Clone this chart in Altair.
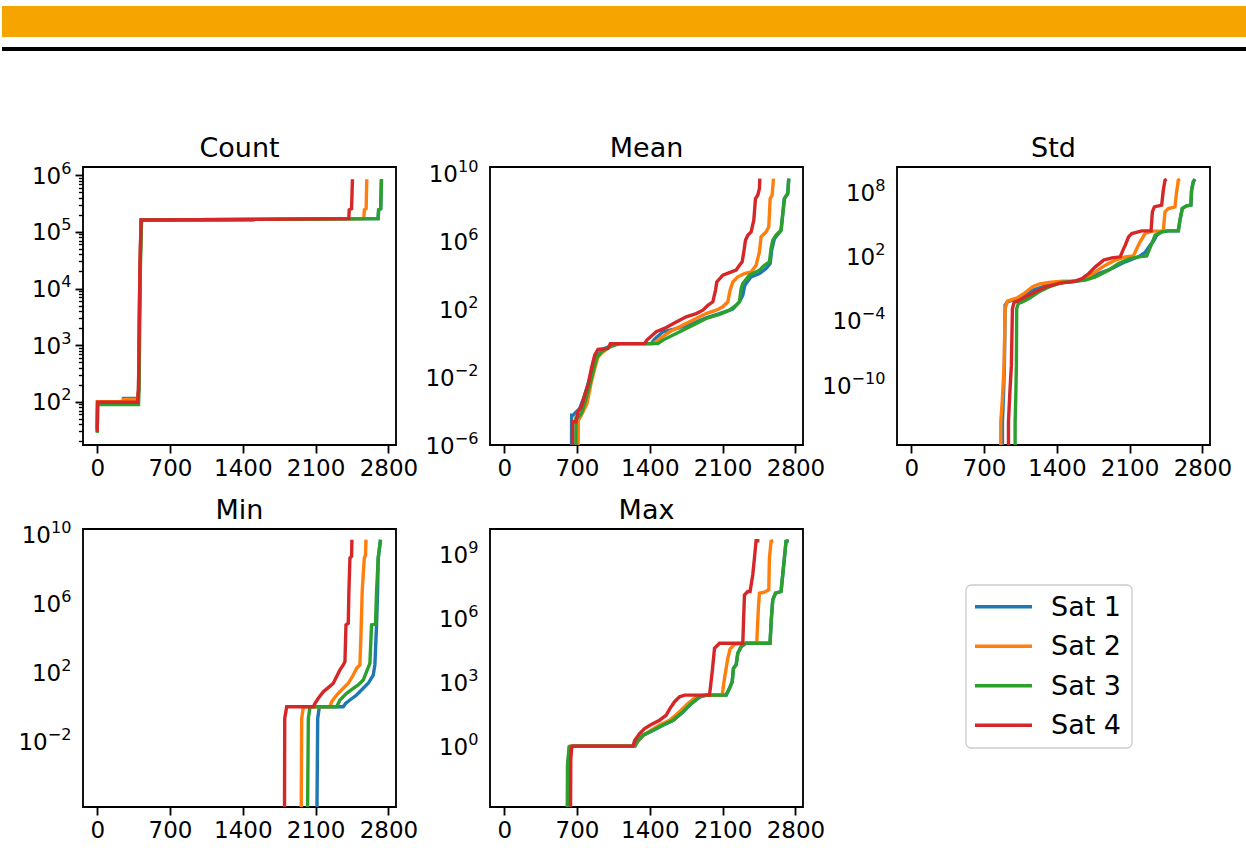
import math
import altair as alt
import pandas as pd

SATS = ["Sat 1", "Sat 2", "Sat 3", "Sat 4"]
COLORS = ["#1f77b4", "#ff7f0e", "#2ca02c", "#d62728"]
X_TICKS = [0, 700, 1400, 2100, 2800]
X_LIMITS = [-137, 2873]

# Each series: (sorted index, log10 of value).
# Points drawn at the floor value continue below the axis (zero entries).
COUNT = {
    "Sat 1": [(0, 1.53), (3, 2.0), (250, 2.0), (252, 2.06), (387, 2.06), (397, 2.21), (410, 4.29), (422, 5.21),
              (1500, 5.22), (2701, 5.235), (2706, 5.39), (2726, 5.41), (2733, 5.93)],
    "Sat 2": [(0, 1.50), (3, 2.0), (250, 2.0), (252, 2.04), (387, 2.04), (397, 2.21), (410, 4.29), (422, 5.21),
              (1500, 5.22), (2563, 5.235), (2569, 5.39), (2586, 5.41), (2592, 5.93)],
    "Sat 3": [(0, 1.45), (3, 1.95), (397, 1.95), (402, 2.21), (414, 4.29), (426, 5.21),
              (1500, 5.22), (2701, 5.235), (2706, 5.39), (2726, 5.41), (2733, 5.93)],
    "Sat 4": [(0, 1.47), (3, 1.99), (387, 1.99), (397, 2.21), (410, 4.29), (422, 5.21),
              (1500, 5.22), (2419, 5.235), (2423, 5.39), (2446, 5.41), (2454, 5.93)],
}

MEAN = {
    "Sat 1": [(646, -8), (648, -4.20), (662, -4.20), (694, -4.0), (726, -3.81), (774, -3.02), (822, -2.04), (870, -1.07),
              (902, -0.67), (966, -0.28), (1046, -0.09), (1110, 0.0), (1414, 0.0), (1446, 0.27), (1526, 0.70),
              (1654, 0.89), (1814, 1.19), (1942, 1.52), (2070, 1.77), (2198, 2.03), (2262, 2.46), (2294, 2.85),
              (2314, 3.44), (2374, 3.93), (2454, 4.12), (2518, 4.42), (2557, 4.71), (2572, 5.50), (2598, 6.18),
              (2662, 6.67), (2694, 8.53), (2726, 8.82), (2736, 9.71)],
    "Sat 2": [(710, -8), (712, -4.39), (726, -4.39), (758, -4.0), (796, -3.51), (838, -2.24), (870, -1.46), (902, -0.77),
              (950, -0.48), (1014, -0.18), (1078, 0.0), (1430, 0.0), (1478, 0.21), (1590, 0.70), (1718, 1.09),
              (1846, 1.48), (1942, 1.77), (2038, 1.97), (2102, 2.17), (2150, 2.46), (2172, 3.15), (2198, 3.63),
              (2246, 3.93), (2310, 4.12), (2374, 4.22), (2422, 4.61), (2454, 5.40), (2470, 6.28), (2518, 6.57),
              (2544, 6.87), (2557, 8.53), (2576, 8.73), (2589, 9.71)],
    "Sat 3": [(688, -8), (690, -4.39), (700, -4.39), (742, -4.10), (774, -3.51), (822, -2.44), (854, -1.65), (886, -0.87),
              (934, -0.48), (998, -0.24), (1062, -0.09), (1110, 0.0), (1478, 0.0), (1526, 0.21), (1654, 0.60),
              (1814, 1.09), (1942, 1.48), (2070, 1.72), (2166, 1.97), (2230, 2.26), (2262, 2.46), (2278, 3.24),
              (2294, 3.54), (2358, 4.03), (2454, 4.32), (2502, 4.61), (2550, 4.81), (2566, 5.59), (2582, 6.08),
              (2614, 6.38), (2662, 6.67), (2694, 8.53), (2726, 8.82), (2736, 9.71)],
    "Sat 4": [(656, -8), (657, -4.59), (688, -4.59), (710, -4.0), (742, -3.71), (774, -3.02), (806, -2.44), (838, -1.46),
              (870, -0.67), (902, -0.34), (998, -0.28), (1020, 0.0), (1350, 0.0), (1372, 0.21), (1462, 0.70),
              (1558, 0.95), (1654, 1.28), (1750, 1.58), (1846, 1.77), (1910, 1.97), (1958, 2.26), (2006, 2.46),
              (2032, 3.15), (2044, 3.63), (2102, 4.03), (2166, 4.18), (2230, 4.32), (2262, 4.61), (2288, 4.81),
              (2304, 5.40), (2320, 6.08), (2342, 6.38), (2374, 6.57), (2400, 7.26), (2416, 8.53), (2438, 8.73),
              (2454, 9.12), (2458, 9.71)],
}

STD = {
    "Sat 1": [(877, -18), (877, -13.43), (887, -10.94), (896, -8.14), (903, -2.53), (925, -2.22), (973, -2.06),
              (1069, -1.75), (1164, -1.13), (1292, -0.72), (1452, -0.41), (1579, -0.29), (1675, -0.10), (1802, 0.43),
              (1930, 0.90), (2058, 1.52), (2185, 1.99), (2249, 2.39), (2297, 3.08), (2329, 3.45), (2361, 4.01),
              (2408, 4.32), (2472, 4.42), (2568, 4.42), (2584, 5.41), (2606, 6.50), (2648, 6.75), (2689, 6.82),
              (2696, 8.22), (2712, 9.00), (2728, 9.25)],
    "Sat 2": [(861, -18), (861, -13.43), (877, -11.25), (893, -8.14), (903, -2.84), (925, -2.16), (973, -2.0),
              (1021, -1.84), (1085, -1.44), (1164, -0.82), (1228, -0.57), (1324, -0.41), (1452, -0.29), (1579, -0.26),
              (1675, -0.04), (1771, 0.59), (1866, 1.21), (1962, 1.68), (2058, 1.99), (2137, 2.08), (2169, 2.77),
              (2201, 3.39), (2249, 4.17), (2313, 4.39), (2424, 4.42), (2440, 6.19), (2472, 6.50), (2536, 6.66),
              (2552, 8.06), (2568, 9.15), (2584, 9.25)],
    "Sat 3": [(999, -18), (999, -13.43), (1005, -11.25), (1011, -8.14), (1014, -2.84), (1030, -2.37), (1069, -2.22),
              (1133, -1.91), (1228, -1.28), (1324, -0.82), (1452, -0.41), (1579, -0.29), (1675, -0.19), (1771, 0.12),
              (1898, 0.74), (1994, 1.36), (2090, 1.77), (2185, 1.99), (2265, 2.08), (2287, 2.61), (2313, 3.23),
              (2345, 4.01), (2408, 4.32), (2472, 4.42), (2568, 4.42), (2584, 5.41), (2606, 6.50), (2648, 6.75),
              (2689, 6.82), (2696, 8.22), (2712, 9.00), (2728, 9.25)],
    "Sat 4": [(935, -18), (935, -13.43), (947, -10.94), (963, -8.14), (973, -2.84), (989, -2.28), (1021, -2.16),
              (1101, -1.75), (1196, -1.28), (1292, -0.82), (1420, -0.50), (1579, -0.29), (1643, -0.04), (1707, 0.43),
              (1771, 1.05), (1850, 1.68), (1930, 1.89), (2010, 1.99), (2032, 2.52), (2058, 3.08), (2090, 3.86),
              (2121, 4.17), (2217, 4.42), (2306, 4.42), (2319, 6.19), (2338, 6.66), (2408, 6.82), (2424, 8.22),
              (2440, 9.15), (2456, 9.25)],
}

MIN = {
    "Sat 1": [(2110, -8), (2120, -0.68), (2136, 0.0), (2366, 0.0), (2388, 0.19), (2430, 0.39), (2494, 0.68),
              (2558, 1.07), (2606, 1.36), (2654, 1.84), (2670, 2.43), (2686, 4.76), (2696, 6.70), (2702, 8.64),
              (2724, 9.71)],
    "Sat 2": [(1960, -8), (1966, -0.68), (1982, 0.0), (2238, 0.0), (2254, 0.29), (2302, 0.68), (2366, 1.07),
              (2414, 1.36), (2462, 1.84), (2494, 2.23), (2526, 2.43), (2536, 4.17), (2548, 6.70), (2568, 8.64),
              (2580, 8.83), (2584, 9.71)],
    "Sat 3": [(2020, -8), (2030, -0.68), (2046, 0.0), (2302, 0.0), (2334, 0.39), (2398, 0.78), (2462, 1.07),
              (2510, 1.26), (2558, 1.55), (2590, 2.04), (2622, 2.52), (2638, 4.76), (2676, 4.80), (2686, 6.70),
              (2702, 8.64), (2724, 9.71)],
    "Sat 4": [(1800, -8), (1803, -0.68), (1822, 0.0), (2078, 0.0), (2094, 0.19), (2126, 0.49), (2174, 0.87),
              (2222, 1.11), (2270, 1.36), (2302, 1.75), (2334, 2.14), (2366, 2.43), (2382, 2.62), (2392, 4.76),
              (2414, 4.85), (2420, 6.70), (2430, 8.64), (2446, 8.74), (2449, 9.71)],
}

MAX = {
    "Sat 1": [(610, -5), (613, -0.90), (628, -0.03), (650, 0.0), (1258, 0.0), (1280, 0.20), (1338, 0.52), (1434, 0.75),
              (1530, 0.99), (1626, 1.22), (1722, 1.62), (1802, 2.01), (1882, 2.32), (1946, 2.40), (2134, 2.40),
              (2166, 2.72), (2192, 3.03), (2204, 3.66), (2230, 3.82), (2246, 4.37), (2278, 4.68), (2326, 4.84),
              (2556, 4.84), (2569, 6.01), (2582, 6.88), (2608, 7.19), (2662, 7.27), (2678, 8.06), (2694, 8.84),
              (2710, 9.63), (2735, 9.66)],
    "Sat 2": [(624, -5), (627, -0.58), (636, 0.0), (1254, 0.0), (1270, 0.12), (1318, 0.44), (1398, 0.70), (1494, 0.99),
              (1590, 1.22), (1686, 1.62), (1766, 2.01), (1846, 2.32), (1910, 2.40), (2096, 2.40), (2118, 3.19),
              (2150, 4.13), (2172, 4.57), (2214, 4.79), (2294, 4.84), (2428, 4.84), (2444, 6.49), (2454, 7.19),
              (2502, 7.24), (2544, 7.35), (2550, 8.84), (2566, 9.63), (2588, 9.66)],
    "Sat 3": [(604, -5), (608, -0.90), (624, -0.03), (646, 0.0), (1254, 0.0), (1276, 0.20), (1334, 0.52), (1430, 0.75),
              (1526, 0.99), (1622, 1.22), (1718, 1.62), (1798, 2.01), (1878, 2.32), (1942, 2.40), (2134, 2.40),
              (2166, 2.72), (2192, 3.03), (2204, 3.66), (2230, 3.82), (2246, 4.37), (2278, 4.68), (2326, 4.84),
              (2556, 4.84), (2569, 6.01), (2582, 6.88), (2608, 7.19), (2662, 7.27), (2678, 8.06), (2694, 8.84),
              (2710, 9.63), (2735, 9.66)],
    "Sat 4": [(636, -5), (640, -0.58), (650, -0.03), (658, 0.0), (1238, 0.0), (1254, 0.27), (1302, 0.59), (1350, 0.83),
              (1414, 1.02), (1494, 1.22), (1558, 1.46), (1590, 1.74), (1638, 2.09), (1686, 2.32), (1734, 2.40),
              (1974, 2.40), (2000, 3.50), (2022, 4.60), (2070, 4.84), (2294, 4.84), (2310, 7.11), (2342, 7.27),
              (2364, 7.27), (2390, 8.06), (2406, 8.84), (2422, 9.66), (2454, 9.66)],
}

# y-axis limits (log10) and major tick exponents per panel
COUNT_LIM, COUNT_TICKS = [1.236, 6.146], [2, 3, 4, 5, 6]
MEAN_LIM, MEAN_TICKS = [-5.96, 10.39], [-6, -2, 2, 6, 10]
STD_LIM, STD_TICKS = [-15.61, 10.39], [-10, -4, 2, 8]
MIN_LIM, MIN_TICKS = [-5.83, 10.33], [-2, 2, 6, 10]
MAX_LIM, MAX_TICKS = [-2.86, 10.21], [0, 3, 6, 9]

PANEL_W, PANEL_H = 313, 278
FONT = "DejaVu Sans"
TITLE_SIZE = 27
TICK_SIZE = 23
SUP_SIZE = 16.1
ADVANCE = {**{d: 0.636 for d in "0123456789"}, "−": 0.838}  # DejaVu Sans advance widths (em)
LABEL_GAP = 11.5
one = pd.DataFrame({"a": [0]})

color_enc = alt.Color("sat:N", scale=alt.Scale(domain=SATS, range=COLORS), legend=None)


def tick_labels(ticks, yscale):
    """'10' plus a raised exponent, as on the reference's log axes."""
    layers = []
    for e in ticks:
        s = str(e).replace("-", "−")
        w = sum(ADVANCE[c] for c in s) * SUP_SIZE
        d = pd.DataFrame({"v": [10.0 ** e], "base": ["10"], "exp": [s]})
        yenc = alt.Y("v:Q", scale=yscale, axis=None)
        layers.append(alt.Chart(d).mark_text(font=FONT, fontSize=TICK_SIZE, color="black", align="right",
                                             baseline="alphabetic", dy=8.5).encode(
            x=alt.value(-LABEL_GAP - w), y=yenc, text="base:N"))
        layers.append(alt.Chart(d).mark_text(font=FONT, fontSize=SUP_SIZE, color="black", align="right",
                                             baseline="alphabetic", dy=-1.5).encode(
            x=alt.value(-LABEL_GAP), y=yenc, text="exp:N"))
    return layers


def panel(title, series, lim, ticks, minor=False):
    rows = []
    for s in SATS:
        for i, (x, e) in enumerate(series[s]):
            rows.append({"sat": s, "i": i, "x": x, "y": 10.0 ** e})
    df = pd.DataFrame(rows)
    xscale = alt.Scale(domain=X_LIMITS, nice=False, zero=False)
    yscale = alt.Scale(type="log", domain=[10.0 ** lim[0], 10.0 ** lim[1]], nice=False)
    xenc = alt.X("x:Q", scale=xscale, title=None,
                 axis=alt.Axis(values=X_TICKS, format="d", labelFlush=False, labelOverlap=False))
    line = alt.Chart(df).mark_line(strokeWidth=3.4, clip=True).encode(
        x=xenc,
        y=alt.Y("y:Q", scale=yscale, title=None,
                axis=alt.Axis(values=[10.0 ** e for e in ticks], labels=False, orient="left")),
        color=color_enc,
        order=alt.Order("i:Q"),
    )
    layers = [line]
    if minor:
        lo, hi = lim
        mvals = [k * 10.0 ** d for d in range(0, 8) for k in range(2, 10)
                 if lo <= d + math.log10(k) <= hi]
        ghost = alt.Chart(df).mark_line(strokeOpacity=0, clip=True).encode(
            x=xenc,
            y=alt.Y("y:Q", scale=yscale, title=None,
                    axis=alt.Axis(values=mvals, labels=False, tickSize=4.6, tickWidth=1.4, orient="left")),
            detail="sat:N",
            order=alt.Order("i:Q"),
        )
        layers.append(ghost)
    layers += tick_labels(ticks, yscale)
    ttl = alt.Chart(one).mark_text(text=title, font=FONT, fontSize=TITLE_SIZE, color="black",
                                   align="center", baseline="alphabetic").encode(
        x=alt.value(PANEL_W / 2), y=alt.value(-10.5))
    layers.append(ttl)
    ch = alt.layer(*layers).properties(width=PANEL_W, height=PANEL_H)
    if minor:
        ch = ch.resolve_axis(y="independent")
    return ch


count_ch = panel("Count", COUNT, COUNT_LIM, COUNT_TICKS, minor=True)
mean_ch = panel("Mean", MEAN, MEAN_LIM, MEAN_TICKS)
std_ch = panel("Std", STD, STD_LIM, STD_TICKS)
min_ch = panel("Min", MIN, MIN_LIM, MIN_TICKS)
max_ch = panel("Max", MAX, MAX_LIM, MAX_TICKS)

# legend panel (third column of the second row)
leg_df = pd.DataFrame({"sat": SATS})
leg_y = alt.Y("sat:N", scale=alt.Scale(type="point", domain=SATS, range=[77.7, 196.2], padding=0), axis=None)
box = alt.Chart(one).mark_rect(fill="white", stroke="#cccccc", strokeWidth=1.3, cornerRadius=5).encode(
    x=alt.value(69), x2=alt.value(235), y=alt.value(56), y2=alt.value(219))
rules = alt.Chart(leg_df).mark_rule(strokeWidth=3.4).encode(
    y=leg_y, x=alt.value(78), x2=alt.value(135), color=color_enc)
texts = alt.Chart(leg_df).mark_text(align="left", baseline="middle", font=FONT, fontSize=TITLE_SIZE,
                                    color="black", dy=1).encode(y=leg_y, x=alt.value(154), text="sat:N")
legend_ch = alt.layer(box, rules, texts).properties(
    width=PANEL_W, height=PANEL_H, view=alt.ViewBackground(strokeWidth=0))

# header band
orange = alt.Chart(one).mark_rect(color="#f5a400").encode(
    x=alt.value(-81), x2=alt.value(1163), y=alt.value(0), y2=alt.value(31))
black = alt.Chart(one).mark_rect(color="black").encode(
    x=alt.value(-81), x2=alt.value(1163), y=alt.value(41), y2=alt.value(45))
header = alt.layer(orange, black).properties(
    width=3 * PANEL_W + 2 * 94, height=45, view=alt.ViewBackground(strokeWidth=0))

grid = alt.concat(count_ch, mean_ch, std_ch, min_ch, max_ch, legend_ch, columns=3,
                  spacing={"row": 84, "column": 94}, bounds="flush")

chart = alt.vconcat(header, grid, spacing=116, bounds="flush").properties(
    padding={"left": 2, "top": 6, "right": 0, "bottom": 2}
).configure(font=FONT).configure_view(
    stroke="black", strokeWidth=1.84
).configure_axis(
    domain=False, grid=False, ticks=True, tickColor="black", tickWidth=1.84, tickSize=8,
    labelFont=FONT, labelFontSize=TICK_SIZE, labelColor="black", labelPadding=4,
)

chart.save("out.html", embed_options={"renderer": "svg", "actions": False})
